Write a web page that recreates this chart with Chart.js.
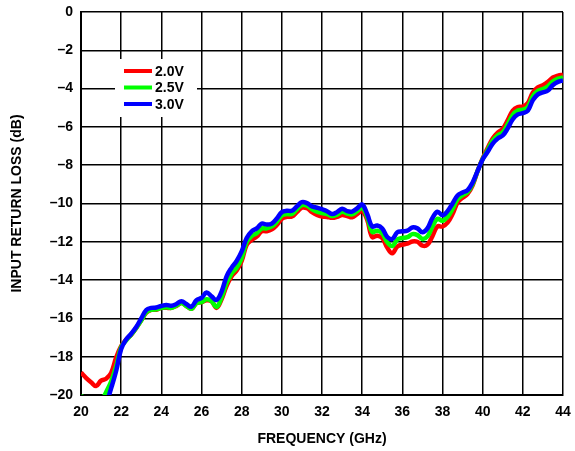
<!DOCTYPE html>
<html>
<head>
<meta charset="utf-8">
<script src="https://cdn.jsdelivr.net/npm/chart.js@4.4.1/dist/chart.umd.min.js"></script>
<style>
  html, body { margin: 0; padding: 0; background: #fff; }
  #wrap { width: 575px; height: 451px; position: relative; }
</style>
</head>
<body>
<div id="wrap"><canvas id="chart"></canvas></div>
<script>
// frequency in GHz
const freq = [
  20, 20.25, 20.5, 20.75, 21, 21.25, 21.5, 21.75,
  22, 22.25, 22.5, 22.75, 23, 23.25, 23.5, 23.75,
  24, 24.25, 24.5, 24.75, 25, 25.25, 25.5, 25.75,
  26, 26.25, 26.5, 26.75, 27, 27.25, 27.5, 27.75,
  28, 28.25, 28.5, 28.75, 29, 29.25, 29.5, 29.75,
  30, 30.25, 30.5, 30.75, 31, 31.25, 31.5, 31.75,
  32, 32.25, 32.5, 32.75, 33, 33.25, 33.5, 33.75,
  34, 34.25, 34.5, 34.75, 35, 35.25, 35.5, 35.75,
  36, 36.25, 36.5, 36.75, 37, 37.25, 37.5, 37.75,
  38, 38.25, 38.5, 38.75, 39, 39.25, 39.5, 39.75,
  40, 40.25, 40.5, 40.75, 41, 41.25, 41.5, 41.75,
  42, 42.25, 42.5, 42.75, 43, 43.25, 43.5, 43.75,
  44
];

// input return loss (dB)
const rl20 = [
  -18.83, -19.1, -19.33, -19.53, -19.25, -19.15, -18.85, -18.05,
  -17.45, -17.1, -16.85, -16.5, -16.1, -15.7, -15.55, -15.55,
  -15.45, -15.45, -15.45, -15.35, -15.2, -15.35, -15.5, -15.2,
  -15.15, -15.05, -15.1, -15.45, -15.0, -14.3, -13.8, -13.5,
  -13.0, -12.15, -11.9, -11.73, -11.45, -11.45, -11.35, -11.12,
  -10.8, -10.7, -10.68, -10.45, -10.22, -10.25, -10.45, -10.6,
  -10.68, -10.7, -10.75, -10.7, -10.6, -10.65, -10.72, -10.55,
  -10.4, -10.85, -11.75, -11.68, -11.8, -12.3, -12.6, -12.25,
  -12.15, -12.1, -11.98, -12.0, -12.2, -12.15, -11.7, -11.2,
  -11.2, -11.0, -10.55, -9.95, -9.7, -9.5, -9.05, -8.3,
  -7.65, -7.1, -6.6, -6.3, -6.1, -5.65, -5.15, -4.96,
  -4.94, -4.75, -4.2, -3.93, -3.82, -3.65, -3.42, -3.32,
  -3.27
];
const rl25 = [
  -20.0, -20.5, -20.8, -20.9, -20.4, -19.85, -19.3, -18.5,
  -17.5, -17.15, -16.85, -16.5, -16.1, -15.68, -15.55, -15.53,
  -15.45, -15.42, -15.45, -15.33, -15.2, -15.35, -15.5, -15.2,
  -15.15, -15.0, -15.1, -15.4, -14.9, -14.15, -13.65, -13.35,
  -12.85, -12.0, -11.7, -11.55, -11.3, -11.3, -11.2, -10.95,
  -10.62, -10.55, -10.55, -10.3, -10.08, -10.12, -10.3, -10.42,
  -10.5, -10.55, -10.65, -10.58, -10.43, -10.52, -10.57, -10.4,
  -10.22, -10.7, -11.48, -11.42, -11.55, -12.02, -12.22, -11.88,
  -11.8, -11.76, -11.6, -11.65, -11.85, -11.72, -11.2, -10.8,
  -10.9, -10.7, -10.28, -9.78, -9.57, -9.4, -8.98, -8.3,
  -7.68, -7.2, -6.73, -6.45, -6.28, -5.86, -5.37, -5.15,
  -5.1, -4.95, -4.4, -4.12, -4.02, -3.88, -3.62, -3.48,
  -3.42
];
const rl30 = [
  -21.5, -21.5, -21.4, -21.2, -20.9, -20.45, -19.65, -18.75,
  -17.6, -17.1, -16.8, -16.45, -16.0, -15.56, -15.45, -15.43,
  -15.35, -15.3, -15.34, -15.25, -15.1, -15.25, -15.39, -15.05,
  -14.93, -14.65, -14.85, -15.04, -14.6, -13.8, -13.35, -13.0,
  -12.5, -11.8, -11.45, -11.3, -11.05, -11.1, -11.05, -10.78,
  -10.45, -10.38, -10.38, -10.15, -9.93, -9.98, -10.15, -10.22,
  -10.3, -10.4, -10.55, -10.45, -10.27, -10.4, -10.42, -10.25,
  -10.05, -10.55, -11.2, -11.15, -11.3, -11.75, -11.85, -11.5,
  -11.45, -11.42, -11.25, -11.3, -11.5, -11.3, -10.75, -10.43,
  -10.62, -10.4, -10.0, -9.58, -9.42, -9.3, -8.9, -8.3,
  -7.7, -7.3, -6.87, -6.6, -6.45, -6.07, -5.6, -5.35,
  -5.28, -5.15, -4.6, -4.3, -4.2, -4.1, -3.81, -3.65,
  -3.57
];

const seriesNames = ['2.0V', '2.5V', '3.0V'];
const seriesColors = ['#ff0000', '#00ff00', '#0000ff'];
const xTicks = [20, 44, 2];   // min, max, step
const yTicks = [-20, 0, 2];

const FONT = '"Liberation Sans", Arial, sans-serif';

function pts(ys){ return freq.map((f, i) => ({x: f, y: ys[i]})); }

function fmt(v){ return v < 0 ? '\u2013' + Math.abs(v) : String(v); }

// legend box drawn inside the plot, over the grid
const boxLegend = {
  id: 'boxLegend',
  afterDatasetsDraw(chart){
    const ctx = chart.ctx;
    const a = chart.chartArea;
    const x0 = a.left + 34, y0 = a.top + 47;
    ctx.save();
    ctx.fillStyle = '#fff';
    ctx.fillRect(x0, y0, 82, 58);
    ctx.font = 'bold 14px ' + FONT;
    ctx.textBaseline = 'middle';
    ctx.textAlign = 'left';
    chart.data.datasets.forEach((ds, i) => {
      const y = y0 + 12 + i * 16.5;
      ctx.strokeStyle = ds.borderColor;
      ctx.lineWidth = 4;
      ctx.beginPath();
      ctx.moveTo(x0 + 9, y);
      ctx.lineTo(x0 + 37, y);
      ctx.stroke();
      ctx.fillStyle = '#000';
      ctx.fillText(ds.label, x0 + 40, y + 1);
    });
    ctx.restore();
  }
};

const datasets = [rl20, rl25, rl30].map((ys, i) => ({
  label: seriesNames[i],
  data: pts(ys),
  borderColor: seriesColors[i],
  backgroundColor: seriesColors[i],
  borderWidth: 4.5,
  pointRadius: 0,
  tension: 0.4,
  fill: false,
  order: 2 - i
}));

chart = new Chart(document.getElementById('chart').getContext('2d'), {
  type: 'line',
  data: { datasets },
  plugins: [boxLegend],
  options: {
    responsive: true,
    maintainAspectRatio: false,
    animation: false,
    layout: { padding: { top: 12, right: 12, left: 0, bottom: 0 } },
    plugins: { legend: { display: false }, tooltip: { enabled: false } },
    scales: {
      x: {
        type: 'linear',
        min: xTicks[0], max: xTicks[1],
        ticks: { stepSize: xTicks[2], padding: 9, color: '#000', maxRotation: 0,
                 font: { family: FONT, size: 14, weight: 'bold' } },
        grid: { color: '#000', lineWidth: 1.5, drawTicks: false },
        border: { color: '#000', width: 2 },
        title: { display: true, text: 'FREQUENCY (GHz)', color: '#000',
                 padding: { top: 0, bottom: 3 },
                 font: { family: FONT, size: 14, weight: 'bold' } },
        afterFit(s){ s.height = 56; s.paddingLeft = 0; s.paddingRight = 0; }
      },
      y: {
        min: yTicks[0], max: yTicks[1],
        ticks: { stepSize: yTicks[2], padding: 8, color: '#000', callback: fmt,
                 font: { family: FONT, size: 14, weight: 'bold' } },
        grid: { color: '#000', lineWidth: 1.5, drawTicks: false },
        border: { color: '#000', width: 2 },
        title: { display: true, text: 'INPUT RETURN LOSS (dB)', color: '#000',
                 padding: { top: 9, bottom: 0 },
                 font: { family: FONT, size: 14, weight: 'bold' } },
        afterFit(s){ s.width = 81; s.paddingTop = 0; s.paddingBottom = 0; }
      }
    }
  }
});
</script>
</body>
</html>
